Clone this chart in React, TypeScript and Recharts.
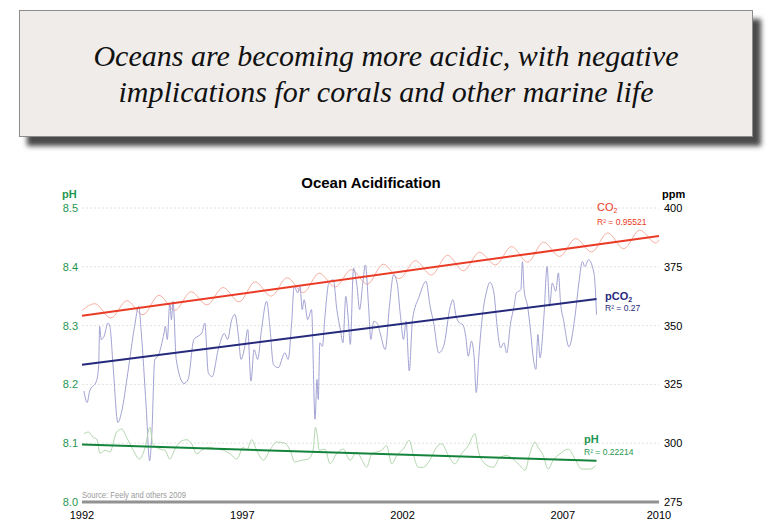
import React from "react";
import { LineChart, Line, XAxis, YAxis, CartesianGrid } from "recharts";

// x axis
const yearTicks = [1992, 1997, 2002, 2007, 2010];
const phTicks = [8.0, 8.1, 8.2, 8.3, 8.4, 8.5];
const ppmTicks = [275, 300, 325, 350, 375, 400];

// atmospheric CO2 (ppm), seasonal cycle
const co2Years = [
  1992.0, 1992.4, 1992.9, 1993.4, 1993.9, 1994.4, 1994.9, 1995.4, 1995.9, 1996.4, 1996.9,
  1997.4, 1997.9, 1998.4, 1998.9, 1999.4, 1999.9, 2000.4, 2000.9, 2001.4, 2001.9, 2002.4,
  2002.9, 2003.4, 2003.9, 2004.4, 2004.9, 2005.4, 2005.9, 2006.4, 2006.9, 2007.4, 2007.9,
  2008.4, 2008.9, 2009.4, 2009.9, 2010.0,
];
const co2Values = [
  356.4, 359.3, 353.2, 360.6, 354.6, 362.9, 356.5, 364.4, 358.8, 366.2, 360.1,
  368.6, 362.5, 370.4, 364.0, 372.3, 366.4, 373.8, 367.6, 376.1, 370.0, 377.6,
  371.5, 379.9, 373.3, 381.2, 375.8, 383.6, 377.0, 385.5, 379.4, 387.0, 381.3,
  389.4, 382.7, 390.6, 385.1, 386.4,
];

// seawater pCO2 (ppm)
const pco2Years = [
  1992.06, 1992.16, 1992.24, 1992.45, 1992.52, 1992.55, 1992.6, 1992.69, 1992.81, 1992.87,
  1992.97, 1993.12, 1993.23, 1993.43, 1993.64, 1993.77, 1993.85, 1994.0, 1994.11, 1994.18,
  1994.27, 1994.37, 1994.56, 1994.6, 1994.66, 1994.74, 1994.79, 1994.84, 1994.94, 1995.18,
  1995.31, 1995.49, 1995.62, 1995.74, 1995.83, 1995.94, 1996.06, 1996.25, 1996.44, 1996.54,
  1996.67, 1996.77, 1996.88, 1996.96, 1997.08, 1997.17, 1997.27, 1997.37, 1997.48, 1997.6,
  1997.76, 1997.86, 1997.97, 1998.12, 1998.33, 1998.43, 1998.54, 1998.62, 1998.73, 1998.8,
  1998.87, 1998.93, 1999.04, 1999.16, 1999.27, 1999.33, 1999.37, 1999.42, 1999.5, 1999.58,
  1999.7, 1999.84, 1999.95, 2000.06, 2000.14, 2000.23, 2000.3, 2000.37, 2000.47, 2000.58,
  2000.66, 2000.76, 2000.84, 2000.94, 2001.01, 2001.1, 2001.2, 2001.3, 2001.46, 2001.59,
  2001.72, 2001.83, 2001.93, 2002.03, 2002.11, 2002.21, 2002.31, 2002.52, 2002.73, 2002.86,
  2002.97, 2003.13, 2003.28, 2003.49, 2003.57, 2003.67, 2003.78, 2003.88, 2003.97, 2004.05,
  2004.15, 2004.23, 2004.3, 2004.38, 2004.49, 2004.61, 2004.73, 2004.85, 2004.95, 2005.06,
  2005.16, 2005.25, 2005.37, 2005.48, 2005.55, 2005.69, 2005.74, 2005.79, 2005.9, 2006.0,
  2006.07, 2006.16, 2006.22, 2006.29, 2006.41, 2006.51, 2006.59, 2006.67, 2006.78, 2006.86,
  2006.93, 2007.03, 2007.19, 2007.38, 2007.5, 2007.61, 2007.69, 2007.8, 2007.97, 2008.02,
  2008.05,
];
const pco2Values = [
  322.2, 317.3, 322.2, 326.4, 332.8, 349.7, 344.1, 345.5, 351.1, 349.7,
  332.8, 308.8, 313.0, 330.0, 349.7, 358.2, 346.9, 315.8, 292.5, 304.5,
  335.6, 337.0, 346.9, 349.7, 344.1, 359.6, 352.5, 360.3, 335.6, 325.4,
  327.1, 344.1, 345.5, 346.9, 351.1, 330.0, 328.3, 339.8, 346.6, 344.1,
  352.5, 354.7, 345.5, 335.6, 341.2, 348.3, 326.4, 339.8, 335.6, 348.3,
  360.3, 349.7, 333.5, 332.1, 338.4, 335.6, 351.1, 366.7, 363.9, 366.7,
  356.8, 361.0, 352.5, 356.8, 310.2, 327.1, 318.6, 342.7, 341.2, 354.0,
  368.1, 369.5, 356.8, 348.3, 342.7, 362.4, 354.0, 342.0, 374.4, 366.7,
  356.8, 368.1, 375.8, 358.2, 344.1, 351.8, 351.1, 346.9, 339.8, 358.2,
  371.6, 368.1, 354.7, 344.1, 351.8, 330.7, 352.5, 362.4, 368.8, 358.2,
  351.1, 338.4, 341.2, 358.2, 361.0, 354.0, 351.1, 350.4, 345.5, 337.0,
  343.4, 337.0, 321.5, 337.0, 354.0, 363.9, 368.4, 363.9, 349.7, 340.5,
  342.7, 338.4, 351.1, 358.2, 363.9, 365.3, 377.2, 365.3, 358.2, 346.9,
  337.0, 331.4, 346.2, 336.3, 354.0, 375.1, 358.2, 368.1, 364.6, 372.4,
  359.6, 351.8, 341.0, 354.0, 368.1, 377.2, 375.1, 378.0, 372.4, 363.9,
  354.7,
];

// seawater pH
const phYears = [
  1992.06, 1992.2, 1992.35, 1992.46, 1992.56, 1992.72, 1992.87, 1993.08, 1993.24, 1993.39,
  1993.6, 1993.79, 1993.97, 1994.12, 1994.21, 1994.43, 1994.59, 1994.74, 1994.9, 1995.06,
  1995.27, 1995.42, 1995.58, 1995.73, 1995.94, 1996.2, 1996.41, 1996.62, 1996.83, 1997.03,
  1997.14, 1997.29, 1997.45, 1997.66, 1997.86, 1998.07, 1998.33, 1998.49, 1998.64, 1998.85,
  1999.06, 1999.21, 1999.28, 1999.34, 1999.4, 1999.58, 1999.74, 1999.94, 2000.15, 2000.36,
  2000.57, 2000.72, 2000.88, 2001.04, 2001.19, 2001.35, 2001.5, 2001.66, 2001.82, 2002.02,
  2002.21, 2002.33, 2002.49, 2002.65, 2002.85, 2003.06, 2003.22, 2003.43, 2003.63, 2003.84,
  2004.05, 2004.26, 2004.36, 2004.57, 2004.83, 2005.04, 2005.25, 2005.45, 2005.66, 2005.82,
  2005.97, 2006.13, 2006.23, 2006.39, 2006.54, 2006.7, 2006.91, 2007.17, 2007.38, 2007.59,
  2007.85, 2008.03,
];
const phValues = [
  8.116, 8.119, 8.11, 8.107, 8.083, 8.088, 8.085, 8.119, 8.124, 8.11,
  8.088, 8.073, 8.093, 8.127, 8.099, 8.09, 8.088, 8.073, 8.09, 8.102,
  8.106, 8.099, 8.082, 8.088, 8.093, 8.09, 8.088, 8.082, 8.073, 8.093,
  8.088, 8.106, 8.088, 8.071, 8.088, 8.102, 8.1, 8.088, 8.068, 8.071,
  8.073, 8.088, 8.127, 8.113, 8.088, 8.09, 8.065, 8.082, 8.09, 8.071,
  8.085, 8.073, 8.059, 8.082, 8.085, 8.088, 8.096, 8.065, 8.079, 8.09,
  8.105, 8.082, 8.059, 8.059, 8.071, 8.093, 8.099, 8.079, 8.065, 8.082,
  8.096, 8.116, 8.088, 8.065, 8.059, 8.076, 8.079, 8.073, 8.062, 8.054,
  8.082, 8.102, 8.093, 8.079, 8.056, 8.071, 8.082, 8.09, 8.073, 8.056,
  8.056, 8.062,
];

// linear trends (endpoints)
const co2TrendYears = [1992, 2010];
const co2TrendValues = [354.2, 388.1];
const pco2TrendYears = [1992, 2008.05];
const pco2TrendValues = [333.4, 361.3];
const phTrendYears = [1992, 2008.05];
const phTrendValues = [8.098, 8.07];

const toRows = (xs: number[], vs: number[]) => xs.map((year, i) => ({ year, v: vs[i] }));

const co2Data = toRows(co2Years, co2Values);
const pco2Data = toRows(pco2Years, pco2Values);
const phData = toRows(phYears, phValues);
const co2Trend = toRows(co2TrendYears, co2TrendValues);
const pco2Trend = toRows(pco2TrendYears, pco2TrendValues);
const phTrend = toRows(phTrendYears, phTrendValues);

const sans = "'Liberation Sans', Arial, sans-serif";

const abs = (left: number, top: number, extra: React.CSSProperties = {}): React.CSSProperties => ({
  position: "absolute",
  left,
  top,
  whiteSpace: "nowrap",
  fontFamily: sans,
  lineHeight: 1,
  ...extra,
});

const Sub = ({ children }: { children: React.ReactNode }) => (
  <span style={{ fontSize: 7, verticalAlign: -2 }}>{children}</span>
);

export default function App() {
  return (
    <div style={{ position: "absolute", left: 0, top: 0, width: 772, height: 528, background: "#fff", overflow: "hidden" }}>
      {/* headline box */}
      <div
        style={{
          position: "absolute",
          left: 19,
          top: 10,
          width: 732,
          height: 125,
          background: "#f0ecea",
          border: "1px solid #8c8c8c",
          boxShadow: "8px 9px 5px #4a4a4a",
          display: "flex",
          alignItems: "center",
          justifyContent: "center",
          textAlign: "center",
          fontFamily: "'Liberation Serif', 'Times New Roman', serif",
          fontStyle: "italic",
          fontSize: 30,
          lineHeight: "36px",
          color: "#111",
        }}
      >
        <div>
          Oceans are becoming more acidic, with negative
          <br />
          implications for corals and other marine life
        </div>
      </div>

      <div style={abs(0, 175, { width: 742, textAlign: "center", fontSize: 15, fontWeight: "bold", color: "#000" })}>
        Ocean Acidification
      </div>
      <div style={abs(62, 189, { fontSize: 11, fontWeight: "bold", color: "#1f9650" })}>pH</div>
      <div style={abs(662, 189, { fontSize: 11, fontWeight: "bold", color: "#000" })}>ppm</div>

      <LineChart
        width={772}
        height={528}
        margin={{ top: 208, right: 73, bottom: 0, left: 62 }}
        style={{ position: "absolute", left: 0, top: 0 }}
      >
        <CartesianGrid yAxisId="ph" vertical={false} stroke="#e2e2e2" strokeDasharray="2 2" />
        <XAxis
          dataKey="year"
          type="number"
          domain={[1992, 2010]}
          ticks={yearTicks}
          allowDuplicatedCategory={false}
          height={26}
          tickSize={0}
          tickMargin={9}
          axisLine={{ stroke: "#929292", strokeWidth: 3 }}
          tick={{ fill: "#000", fontSize: 11, fontFamily: sans }}
        />
        <YAxis
          yAxisId="ph"
          orientation="left"
          domain={[8.0, 8.5]}
          ticks={phTicks}
          width={20}
          tickSize={0}
          tickMargin={4}
          axisLine={false}
          tickFormatter={(v: number) => v.toFixed(1)}
          tick={{ fill: "#1f9650", fontSize: 11, fontFamily: sans }}
        />
        <YAxis
          yAxisId="ppm"
          orientation="right"
          domain={[275, 400]}
          ticks={ppmTicks}
          width={40}
          tickSize={0}
          tickMargin={5}
          axisLine={false}
          tick={{ fill: "#000", fontSize: 11, fontFamily: sans, textAnchor: "start" }}
        />

        <Line yAxisId="ppm" data={co2Data} dataKey="v" type="monotone" stroke="#f7b0a2" strokeWidth={1} dot={false} isAnimationActive={false} />
        <Line yAxisId="ppm" data={pco2Data} dataKey="v" type="monotone" stroke="#a2a2d4" strokeWidth={1} dot={false} isAnimationActive={false} />
        <Line yAxisId="ph" data={phData} dataKey="v" type="monotone" stroke="#b2d6ae" strokeWidth={1} dot={false} isAnimationActive={false} />

        <Line yAxisId="ppm" data={co2Trend} dataKey="v" type="linear" stroke="#ea3b26" strokeWidth={2} dot={false} isAnimationActive={false} />
        <Line yAxisId="ppm" data={pco2Trend} dataKey="v" type="linear" stroke="#262a7c" strokeWidth={2} dot={false} isAnimationActive={false} />
        <Line yAxisId="ph" data={phTrend} dataKey="v" type="linear" stroke="#14843c" strokeWidth={2} dot={false} isAnimationActive={false} />
      </LineChart>

      {/* series labels */}
      <div style={abs(597, 202, { fontSize: 11, color: "#ea3b26" })}>
        CO<Sub>2</Sub>
      </div>
      <div style={abs(597, 218, { fontSize: 8.5, color: "#ea3b26" })}>R² = 0.95521</div>

      <div style={abs(605, 291, { fontSize: 11, color: "#262a7c", fontWeight: "bold" })}>
        pCO<Sub>2</Sub>
      </div>
      <div style={abs(605, 304, { fontSize: 8.5, color: "#262a7c" })}>R² = 0.27</div>

      <div style={abs(584, 434, { fontSize: 11, color: "#1f9650", fontWeight: "bold" })}>pH</div>
      <div style={abs(584, 448, { fontSize: 8.5, color: "#1f9650" })}>R² = 0.22214</div>

      <div
        style={abs(82, 490, {
          fontSize: 9.5,
          color: "#9a9a9a",
          transform: "scaleX(0.8)",
          transformOrigin: "left top",
        })}
      >
        Source: Feely and others 2009
      </div>
    </div>
  );
}
